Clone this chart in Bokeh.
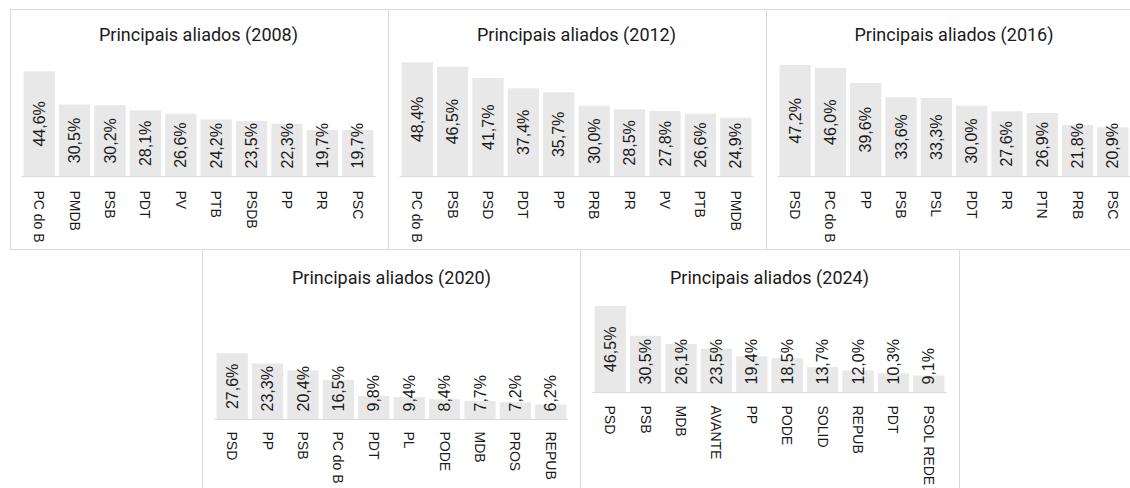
from math import pi
from bokeh.plotting import figure
from bokeh.models import ColumnDataSource, Range1d, Spacer
from bokeh.layouts import row, column
from bokeh.core.properties import value
from bokeh.embed import file_html
from bokeh.resources import INLINE

# ---------------- data ----------------
years = ["2008", "2012", "2016", "2020", "2024"]

parties_2008 = ["PC do B", "PMDB", "PSB", "PDT", "PV", "PTB", "PSDB", "PP", "PR", "PSC"]
values_2008 = [44.6, 30.5, 30.2, 28.1, 26.6, 24.2, 23.5, 22.3, 19.7, 19.7]

parties_2012 = ["PC do B", "PSB", "PSD", "PDT", "PP", "PRB", "PR", "PV", "PTB", "PMDB"]
values_2012 = [48.4, 46.5, 41.7, 37.4, 35.7, 30.0, 28.5, 27.8, 26.6, 24.9]

parties_2016 = ["PSD", "PC do B", "PP", "PSB", "PSL", "PDT", "PR", "PTN", "PRB", "PSC"]
values_2016 = [47.2, 46.0, 39.6, 33.6, 33.3, 30.0, 27.6, 26.9, 21.8, 20.9]

parties_2020 = ["PSD", "PP", "PSB", "PC do B", "PDT", "PL", "PODE", "MDB", "PROS", "REPUB"]
values_2020 = [27.6, 23.3, 20.4, 16.5, 9.8, 9.4, 8.4, 7.7, 7.2, 6.2]

parties_2024 = ["PSD", "PSB", "MDB", "AVANTE", "PP", "PODE", "SOLID", "REPUB", "PDT", "PSOL REDE"]
values_2024 = [46.5, 30.5, 26.1, 23.5, 19.4, 18.5, 13.7, 12.0, 10.3, 9.1]

Y_MAX = 50
BAR_COLOR = "#e8e8e8"
LINE_COLOR = "#d9d9d9"
TEXT_COLOR = "#1a1a1a"
LABEL_PX = 16
CHAR_W = {",": 0.278, "%": 0.889}


def fmt(v):
    return ("%.1f%%" % v).replace(".", ",")


def label_len(s):
    return LABEL_PX * sum(CHAR_W.get(c, 0.556) for c in s)


def panel(year, parties, values, width, height, top, bottom, left, right, standoff, title_standoff):
    frame_h = height - top - bottom
    scale = frame_h / Y_MAX
    labels = [fmt(v) for v in values]
    label_y = [max(v * scale / 2, label_len(t) / 2 + 8) / scale for v, t in zip(values, labels)]
    src = ColumnDataSource(dict(party=parties, val=values, lab=labels, ly=label_y))
    p = figure(x_range=parties, y_range=Range1d(0, Y_MAX), width=width, height=height,
               output_backend="svg", toolbar_location=None, y_axis_location=None,
               min_border_top=top, min_border_bottom=bottom,
               min_border_left=left, min_border_right=right,
               title="Principais aliados (%s)" % year)
    p.outline_line_color = None
    p.background_fill_color = "white"
    p.border_fill_color = "white"
    p.xgrid.visible = False
    p.ygrid.visible = False
    p.title.align = "center"
    p.title.vertical_align = "top"
    p.title.text_font = "Roboto"
    p.title.text_font_size = "18px"
    p.title.text_font_style = "normal"
    p.title.text_color = TEXT_COLOR
    p.title.standoff = title_standoff
    p.vbar(x="party", top="val", width=0.884, source=src, fill_color=BAR_COLOR, line_color=None)
    p.text(x="party", y="ly", text="lab", source=src, angle=pi / 2,
           text_align="center", text_baseline="middle",
           text_font=value("Liberation Sans"), text_font_size="%dpx" % LABEL_PX,
           text_color=TEXT_COLOR)
    ax = p.xaxis[0]
    ax.axis_line_color = LINE_COLOR
    ax.major_tick_line_color = None
    ax.minor_tick_line_color = None
    ax.major_tick_in = 0
    ax.major_tick_out = 0
    ax.major_label_standoff = standoff
    ax.major_label_orientation = "vertical"
    ax.major_label_text_font = "Liberation Sans"
    ax.major_label_text_font_size = "14px"
    ax.major_label_text_color = TEXT_COLOR
    return p


def vline(h):
    return Spacer(width=1, height=h, styles={"background-color": LINE_COLOR})


def hline(w):
    return Spacer(width=w, height=1, styles={"background-color": LINE_COLOR})


H1 = 239
H2 = 238
p1 = panel(years[0], parties_2008, values_2008, 377, H1, 48, 73, 10, 13, 14, 24)
p2 = panel(years[1], parties_2012, values_2012, 377, H1, 48, 73, 10, 13, 14, 24)
p3 = panel(years[2], parties_2016, values_2016, 363, H1, 48, 73, 10, 0, 14, 24)
p4 = panel(years[3], parties_2020, values_2020, 377, H2, 49, 69, 11, 12, 12, 19)
p5 = panel(years[4], parties_2024, values_2024, 378, H2, 49, 96, 11, 13, 13, 19)

row1 = row(Spacer(width=10, height=H1), vline(H1), column(p1), vline(H1), column(p2), vline(H1), column(p3))
row2 = row(Spacer(width=202, height=H2), vline(H2), column(p4), vline(H2), column(p5), vline(H2))
layout = column(Spacer(width=1, height=9),
                row(Spacer(width=10, height=1), hline(1120)),
                row1,
                row(Spacer(width=10, height=1), hline(1120)),
                row2)

open("out.html", "w").write(file_html(layout, INLINE))
